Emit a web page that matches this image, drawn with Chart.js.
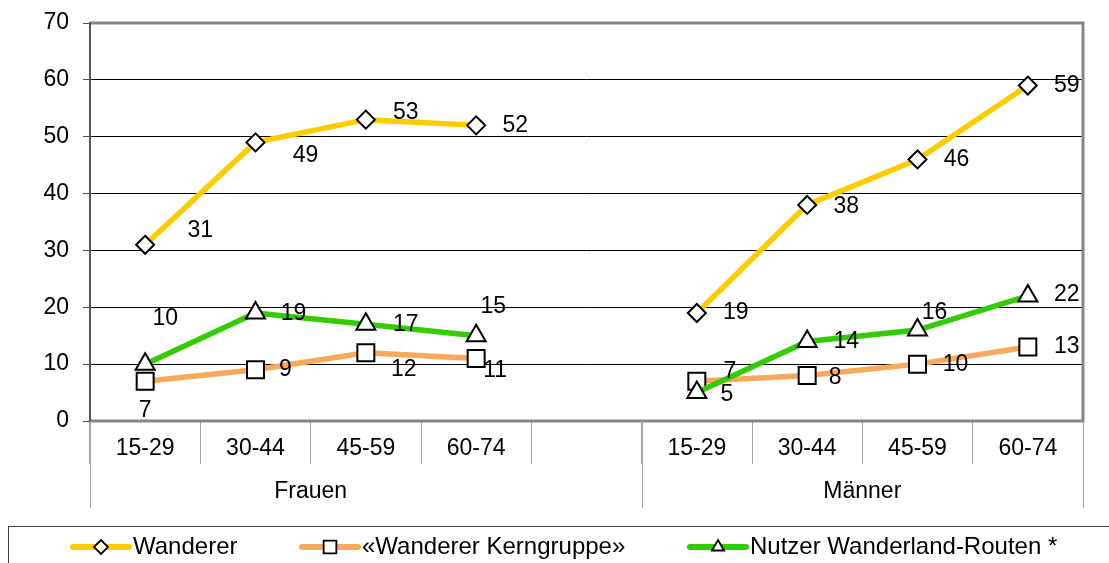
<!DOCTYPE html>
<html>
<head>
<meta charset="utf-8">
<script src="https://cdn.jsdelivr.net/npm/chart.js@4.4.1/dist/chart.umd.min.js"></script>
<style>
  html, body { margin: 0; padding: 0; background: #fff; }
  #wrap { width: 1109px; height: 563px; position: relative; }
</style>
</head>
<body>
<div id="wrap"><canvas id="chart" width="1109" height="563"></canvas></div>
<script>
// categories (slot 4 is the empty gap between the two groups)
const ageGroups = ['15-29', '30-44', '45-59', '60-74', '', '15-29', '30-44', '45-59', '60-74'];
const sexGroups = ['Frauen', 'Männer'];
const yTicks = [0, 10, 20, 30, 40, 50, 60, 70];

// series values
const wanderer = [31, 49, 53, 52, null, 19, 38, 46, 59];
const kerngruppe = [7, 9, 12, 11, null, 7, 8, 10, 13];
const nutzerRouten = [10, 19, 17, 15, null, 5, 14, 16, 22];

const seriesNames = ['Wanderer', '«Wanderer Kerngruppe»', 'Nutzer Wanderland-Routen *'];

// where each data label sits relative to its point (Excel had them moved by hand)
const labelShift = [
  [[55, -14], [50, 13], [40, -7], [39, 0], null, [39, 0], [39, 2], [39, 0], [39, 0]],
  [[0, 29], [30, 0], [38, 17], [19, 12], null, [33, -10], [28, 2], [38, 1], [39, 0]],
  [[20, -45], [38, 1], [40, 0], [17, -29], null, [30, 2], [39, 0], [17, -17], [39, -1]]
];

const FONT = '"Liberation Sans", Arial, sans-serif';
const TEXT_SIZE = 23;
const LEGEND_SIZE = 24;

const plotFrame = {
  id: 'plotFrame',
  afterDraw(chart) {
    const ctx = chart.ctx;
    const a = chart.chartArea;
    const x = chart.scales.x;
    ctx.save();
    // grey frame top / right / bottom
    ctx.strokeStyle = '#868686';
    ctx.lineWidth = 3;
    ctx.beginPath();
    ctx.moveTo(a.left, a.top);
    ctx.lineTo(a.right, a.top);
    ctx.lineTo(a.right, a.bottom);
    ctx.lineTo(a.left, a.bottom);
    ctx.stroke();
    // left axis
    ctx.strokeStyle = '#555';
    ctx.lineWidth = 2;
    ctx.beginPath();
    ctx.moveTo(a.left, a.top - 1);
    ctx.lineTo(a.left, a.bottom + 1);
    ctx.stroke();

    // long separators for the two groups
    const half = (x.getPixelForValue(1) - x.getPixelForValue(0)) / 2;
    const groupEdges = [x.getPixelForValue(0) - half, x.getPixelForValue(5) - half, x.getPixelForValue(8) + half];
    ctx.strokeStyle = '#a6a6a6';
    ctx.lineWidth = 1;
    groupEdges.forEach(px => {
      ctx.beginPath();
      ctx.moveTo(Math.round(px) + 0.5, a.bottom);
      ctx.lineTo(Math.round(px) + 0.5, a.bottom + 87);
      ctx.stroke();
    });

    // category labels + group labels
    ctx.fillStyle = '#000';
    ctx.font = TEXT_SIZE + 'px ' + FONT;
    ctx.textAlign = 'center';
    ctx.textBaseline = 'middle';
    ageGroups.forEach((lab, i) => {
      if (lab) ctx.fillText(lab, x.getPixelForValue(i), a.bottom + 28);
    });
    ctx.fillText(sexGroups[0], (groupEdges[0] + x.getPixelForValue(4) - half) / 2, a.bottom + 71);
    ctx.fillText(sexGroups[1], (groupEdges[1] + groupEdges[2]) / 2, a.bottom + 71);

    // data labels
    chart.data.datasets.forEach((ds, d) => {
      const meta = chart.getDatasetMeta(d);
      meta.data.forEach((pt, i) => {
        const v = ds.data[i];
        if (v === null || !labelShift[d][i]) return;
        ctx.fillText(String(v), pt.x + labelShift[d][i][0], pt.y + labelShift[d][i][1]);
      });
    });

    // legend
    ctx.strokeStyle = '#404040';
    ctx.lineWidth = 1;
    ctx.strokeRect(8.5, 526.5, 1200, 100);
    const legendX = [73, 302, 690];
    const ly = 547;
    chart.data.datasets.forEach((ds, d) => {
      const lx = legendX[d];
      ctx.strokeStyle = ds.borderColor;
      ctx.lineWidth = 6;
      ctx.lineCap = 'round';
      ctx.beginPath();
      ctx.moveTo(lx, ly);
      ctx.lineTo(lx + 56, ly);
      ctx.stroke();
      ctx.lineCap = 'butt';
      ctx.fillStyle = '#fff';
      ctx.strokeStyle = '#000';
      ctx.lineWidth = 1.8;
      Chart.helpers.drawPoint(ctx, {
        pointStyle: ds.pointStyle,
        radius: ds.pointStyle === 'rect' ? 9 : 7,
        rotation: 0,
        borderWidth: 1.8
      }, lx + 28, ly);
      ctx.fillStyle = '#000';
      ctx.textAlign = 'left';
      ctx.font = LEGEND_SIZE + 'px ' + FONT;
      ctx.fillText(seriesNames[d], lx + 60, ly);
    });
    ctx.restore();
  }
};

function makeSet(label, data, color, style, radius, order) {
  return {
    label: label,
    data: data,
    order: order,
    borderColor: color,
    backgroundColor: color,
    borderWidth: 5.5,
    tension: 0,
    spanGaps: false,
    pointStyle: style,
    pointRadius: radius,
    pointHoverRadius: radius,
    pointBackgroundColor: '#fff',
    pointBorderColor: '#000',
    pointBorderWidth: 2
  };
}

new Chart(document.getElementById('chart'), {
  type: 'line',
  data: {
    labels: ageGroups,
    datasets: [
      makeSet(seriesNames[0], wanderer, '#ffcc00', 'rectRot', 9, 0),
      makeSet(seriesNames[1], kerngruppe, '#f9a95b', 'rect', 12, 2),
      makeSet(seriesNames[2], nutzerRouten, '#33cc00', 'triangle', 11, 1)
    ]
  },
  options: {
    responsive: false,
    animation: false,
    layout: { padding: { top: 23, right: 26, bottom: 55, left: 0 } },
    plugins: { legend: { display: false }, tooltip: { enabled: false } },
    scales: {
      x: {
        offset: true,
        afterFit(scale) { scale.height = 87; scale.paddingLeft = 0; scale.paddingRight = 0; },
        ticks: { display: false },
        border: { display: false },
        grid: {
          offset: true,
          drawOnChartArea: false,
          tickLength: 43,
          color: '#a6a6a6',
          lineWidth: 1
        }
      },
      y: {
        min: yTicks[0],
        max: yTicks[yTicks.length - 1],
        afterFit(scale) { scale.width = 90; scale.paddingTop = 0; scale.paddingBottom = 0; },
        afterBuildTicks(scale) { scale.ticks = yTicks.map(v => ({ value: v })); },
        ticks: {
          color: '#000',
          font: { family: FONT, size: TEXT_SIZE },
          padding: 14
        },
        border: { display: false },
        grid: {
          color: c => (c.tick.value === 0 || c.tick.value === 70) ? 'rgba(0,0,0,0)' : '#000',
          tickColor: '#555',
          lineWidth: 1,
          tickLength: 7
        }
      }
    }
  },
  plugins: [plotFrame]
});
</script>
</body>
</html>
